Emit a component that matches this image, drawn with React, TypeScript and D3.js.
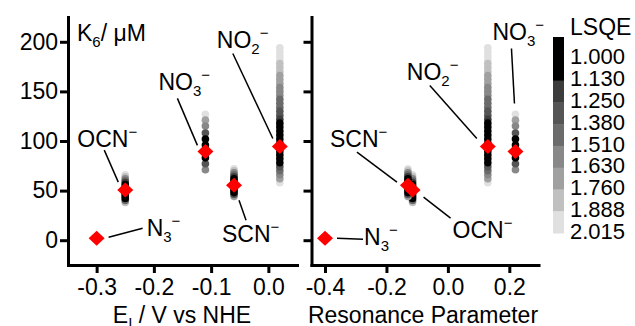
import { useEffect, useRef } from "react";
import * as d3 from "d3";

// anions, best-fit K6 (uM), and the two x quantities
const anions = ["N3", "OCN", "NO3", "SCN", "NO2"];
const eI = [-0.3, -0.25, -0.11, -0.06, 0.02];
const resonance = [-0.4, -0.115, 0.22, -0.13, 0.13];
const kBest = [2, 50.5, 89.5, 55.5, 94.5];

// scanned K6 values and their LSQE for each anion
const ocnK = [66, 64, 62, 60, 58, 56, 54, 52, 50, 48, 46, 44, 42, 40, 38];
const ocnLsqe = [1.95, 1.8, 1.6, 1.4, 1.2, 1.05, 1.0, 1.0, 1.0, 1.0, 1.0, 1.0, 1.1, 1.4, 1.8];
const no3K = [127, 121, 115, 108, 102, 96, 89, 83, 77, 71];
const no3Lsqe = [1.95, 1.7, 1.55, 1.3, 1.05, 1.0, 1.0, 1.05, 1.3, 1.55];
const scnK = [72, 70, 68, 66, 64, 62, 60, 58, 56, 54, 52, 50, 48, 46, 44];
const scnLsqe = [1.95, 1.8, 1.6, 1.4, 1.2, 1.05, 1.0, 1.0, 1.0, 1.0, 1.0, 1.0, 1.05, 1.3, 1.7];
const no2K = [194, 190, 186, 182, 178, 174, 170, 166, 162, 158, 154, 150, 146, 142, 138, 134, 130, 126,
  122, 118, 114, 110, 106, 102, 98, 94, 90, 86, 82, 78, 74, 70, 66, 62, 58];
const no2Lsqe = [2.0, 1.95, 1.95, 1.9, 1.85, 1.8, 1.8, 1.75, 1.7, 1.65, 1.6, 1.6, 1.55, 1.5, 1.45, 1.4, 1.35, 1.3,
  1.2, 1.1, 1.05, 1.0, 1.0, 1.0, 1.0, 1.0, 1.0, 1.0, 1.0, 1.1, 1.25, 1.4, 1.6, 1.75, 1.95];

// colour scale
const lsqeLabels = ["1.000", "1.130", "1.250", "1.380", "1.510", "1.630", "1.760", "1.888", "2.015"];
const lsqeBreaks = [1.13, 1.25, 1.38, 1.51, 1.63, 1.76, 1.888];
const grays = ["#000000", "#3c3c3c", "#555555", "#6b6b6b", "#888888", "#a0a0a0", "#c0c0c0", "#e0e0e0"];
const barGrays = ["#000000", "#000000", "#3c3c3c", "#555555", "#6b6b6b", "#888888", "#a0a0a0", "#c0c0c0", "#e0e0e0"];

const yTicks = [0, 50, 100, 150, 200];
const leftTicks = [-0.3, -0.2, -0.1, 0.0];
const rightTicks = [-0.4, -0.2, 0.0, 0.2];

const labelText = {
  N3: ["N", "3"],
  OCN: ["OCN", ""],
  NO3: ["NO", "3"],
  SCN: ["SCN", ""],
  NO2: ["NO", "2"],
};

// label placement, pixel offsets from the diamond: text dx,dy and leader line
const leftLabels = [
  { a: "OCN", dx: -48, dy: -43, l: [-21, -40, -7, -8] },
  { a: "N3", dx: 50, dy: -2, l: [12, -1, 46, -10] },
  { a: "NO3", dx: -47, dy: -61, l: [-28, -53, -8, -6] },
  { a: "SCN", dx: -12, dy: 57, l: [5, 15, 12, 35] },
  { a: "NO2", dx: -63, dy: -98, l: [-47, -93, -7, -8] },
];
const rightLabels = [
  { a: "NO3", dx: -23, dy: -111, l: [-4, -103, -1, -48] },
  { a: "NO2", dx: -81, dy: -66, l: [-58, -61, -11, -8] },
  { a: "SCN", dx: -78, dy: -38, l: [-51, -33, -11, -3] },
  { a: "OCN", dx: 40, dy: 48, l: [11, 7, 38, 28] },
  { a: "N3", dx: 39, dy: 7, l: [12, 0, 38, 1] },
];

const FONT = "'Liberation Sans', Arial, sans-serif";

const App = () => {
  const ref = useRef(null);

  useEffect(() => {
    document.body.style.margin = "0";
    const svg = d3.select(ref.current);
    svg.selectAll("*").remove();
    svg.attr("font-family", FONT);

    const y = d3.scaleLinear().domain([-25, 225]).range([265, 17]);
    const color = d3.scaleThreshold<number, string>().domain(lsqeBreaks).range(grays);

    const columns = [
      { a: "OCN", k: ocnK, l: ocnLsqe },
      { a: "NO3", k: no3K, l: no3Lsqe },
      { a: "SCN", k: scnK, l: scnLsqe },
      { a: "NO2", k: no2K, l: no2Lsqe },
    ];

    const panels = [
      { xs: eI, domain: [-0.35, 0.05], range: [68, 297], ticks: leftTicks, labels: leftLabels, showY: true },
      { xs: resonance, domain: [-0.444, 0.295], range: [311.5, 538.5], ticks: rightTicks, labels: rightLabels, showY: false },
    ];

    const fmt = (d) => d3.format(".1f")(d).replace("\u2212", "-");

    panels.forEach((p) => {
      const x = d3.scaleLinear().domain(p.domain).range(p.range);
      const g = svg.append("g");

      // scatter columns, darkest drawn last
      columns.forEach((c) => {
        const xi = p.xs[anions.indexOf(c.a)];
        const pts = c.k.map((k, i) => ({ k, l: c.l[i] })).sort((a, b) => b.l - a.l);
        g.selectAll(null)
          .data(pts)
          .join("circle")
          .attr("cx", x(xi))
          .attr("cy", (d) => y(d.k))
          .attr("r", 3.8)
          .attr("fill", (d) => color(d.l));
      });

      // leader lines and labels
      p.labels.forEach((lb) => {
        const i = anions.indexOf(lb.a);
        const px = x(p.xs[i]);
        const py = y(kBest[i]);
        g.append("line")
          .attr("x1", px + lb.l[0])
          .attr("y1", py + lb.l[1])
          .attr("x2", px + lb.l[2])
          .attr("y2", py + lb.l[3])
          .attr("stroke", "#000")
          .attr("stroke-width", 1.5);
        const [main, sub] = labelText[lb.a];
        const t = g.append("text").attr("x", px + lb.dx).attr("y", py + lb.dy).attr("font-size", 23);
        t.append("tspan").text(main);
        if (sub) {
          t.append("tspan").attr("dy", 6).attr("font-size", 15).text(sub);
          t.append("tspan").attr("dy", -16).attr("font-size", 15).text("\u2212");
        } else {
          t.append("tspan").attr("dy", -10).attr("font-size", 15).text("\u2212");
        }
      });

      // best-fit diamonds
      g.selectAll(null)
        .data(anions.map((a, i) => ({ x: p.xs[i], k: kBest[i] })))
        .join("path")
        .attr("d", (d) => {
          const cx = x(d.x);
          const cy = y(d.k);
          return `M${cx - 8},${cy}L${cx},${cy - 7.5}L${cx + 8},${cy}L${cx},${cy + 7.5}Z`;
        })
        .attr("fill", "#ff0000");

      // axes
      const ax = g
        .append("g")
        .attr("transform", `translate(0,${y.range()[0]})`)
        .call(d3.axisBottom(x).tickValues(p.ticks).tickFormat(fmt).tickSize(8).tickSizeOuter(0).tickPadding(6));
      const ay = g
        .append("g")
        .attr("transform", `translate(${p.range[0]},0)`)
        .call(
          d3
            .axisLeft(y)
            .tickValues(yTicks)
            .tickFormat(p.showY ? d3.format("d") : () => "")
            .tickSize(8)
            .tickSizeOuter(0)
            .tickPadding(2)
        );
      [ax, ay].forEach((a) => {
        a.select(".domain").attr("stroke-width", 3).attr("stroke-linecap", "square");
        a.selectAll(".tick line").attr("stroke-width", 3);
        a.selectAll(".tick text").attr("font-size", 23).attr("font-family", FONT).attr("fill", "#000");
      });
    });

    // y label inside left panel
    const kl = svg.append("text").attr("x", 77).attr("y", 41).attr("font-size", 23);
    kl.append("tspan").text("K");
    kl.append("tspan").attr("dy", 6).attr("font-size", 15).text("6");
    kl.append("tspan").attr("dy", -6).text("/ \u03bcM");

    // x axis titles
    const t1 = svg.append("text").attr("x", 182).attr("y", 323).attr("font-size", 23).attr("text-anchor", "middle");
    t1.append("tspan").text("E");
    t1.append("tspan").attr("dy", 5).attr("font-size", 15).text("I");
    t1.append("tspan").attr("dy", -5).text(" / V vs NHE");
    svg
      .append("text")
      .attr("x", 423)
      .attr("y", 323)
      .attr("font-size", 23)
      .attr("text-anchor", "middle")
      .text("Resonance Parameter");

    // colour bar
    const bar = d3.scaleBand().domain(d3.range(barGrays.length)).range([37, 233]);
    svg
      .append("g")
      .selectAll("rect")
      .data(barGrays)
      .join("rect")
      .attr("x", 553)
      .attr("y", (d, i) => bar(i))
      .attr("width", 11)
      .attr("height", bar.bandwidth() + 0.5)
      .attr("fill", (d) => d);
    svg
      .append("g")
      .selectAll("text")
      .data(lsqeLabels)
      .join("text")
      .attr("x", 570)
      .attr("y", (d, i) => bar(i) + bar.bandwidth() - 2)
      .attr("dy", "0.35em")
      .attr("font-size", 22)
      .text((d) => d);
    svg.append("text").attr("x", 570).attr("y", 35).attr("font-size", 23).text("LSQE");
  }, []);

  return <svg ref={ref} width={635} height={326} style={{ display: "block" }} />;
};

export default App;
